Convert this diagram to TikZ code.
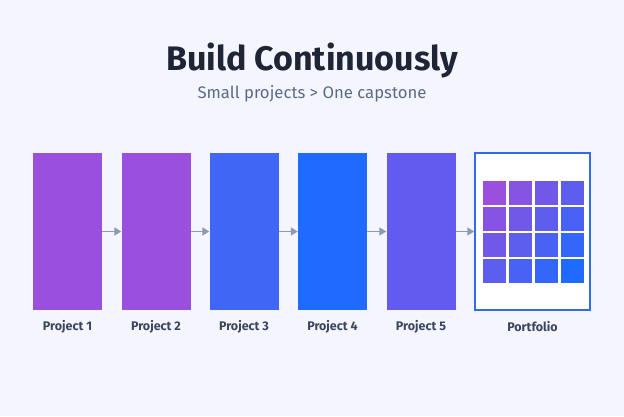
\documentclass[tikz,border=0pt]{standalone}
\usepackage{fontspec}
\setmainfont{Fira Sans}
\usetikzlibrary{arrows.meta}
\definecolor{bgcol}{HTML}{F5F6FD}
\definecolor{titlecol}{HTML}{1E2537}
\definecolor{subcol}{HTML}{5A6B88}
\definecolor{labelcol}{HTML}{3A4560}
\definecolor{arrowcol}{HTML}{8B9BB0}
\definecolor{purp}{HTML}{9B4FDE}
\definecolor{indigo}{HTML}{4066F5}
\definecolor{brightblue}{HTML}{1F6BFF}
\definecolor{violet}{HTML}{635BEF}
\definecolor{framecol}{HTML}{2F6BF0}

\begin{document}
\begin{tikzpicture}[x=1pt, y=-1pt,
			proj_style/.style={rectangle,minimum width=69pt,minimum height=157pt,inner sep=0pt,draw=none},
			cell_style/.style={rectangle,minimum width=23pt,minimum height=24pt,inner sep=0pt},
			label_style/.style={font=\bfseries\fontsize{12.5}{14}\selectfont,text=labelcol},
			edge_style/.style={draw=arrowcol,line width=1.3pt,-{Triangle[length=7pt,width=8pt]}}]
			\fill[bgcol] (0,0) rectangle (624,416);
			\useasboundingbox (0,0) rectangle (624,416);
			% heading
			\node[font=\bfseries\fontsize{34}{38}\selectfont,text=titlecol] (title) at (312,60) {Build Continuously};
			\node[font=\fontsize{16.7}{20}\selectfont,text=subcol] (subtitle) at (312,94) {Small projects > One capstone};
			% projects
			\node[proj_style,fill=purp] (p1) at (67.5,231.5) {};
			\node[proj_style,fill=purp] (p2) at (156,231.5) {};
			\node[proj_style,fill=indigo] (p3) at (244,231.5) {};
			\node[proj_style,fill=brightblue] (p4) at (332.5,231.5) {};
			\node[proj_style,fill=violet] (p5) at (421,231.5) {};
			\node[rectangle,minimum width=115pt,minimum height=157pt,inner sep=0pt,fill=white,draw=framecol,line width=1.3pt] (port) at (532.5,231.5) {};
			% portfolio grid
			\foreach \i in {0,...,3}
			  \foreach \j in {0,...,3}{
			    \pgfmathtruncatemacro{\t}{100*(\i+\j)/6}
			    \node[cell_style,fill=brightblue!\t!purp] (c\i\j) at (494.5+26*\j,193+26*\i) {};
			  }
			% labels
			\node[label_style] (l1) at (67.5,327) {Project 1};
			\node[label_style] (l2) at (156,327) {Project 2};
			\node[label_style] (l3) at (244,327) {Project 3};
			\node[label_style] (l4) at (332.5,327) {Project 4};
			\node[label_style] (l5) at (421,327) {Project 5};
			\node[label_style] (l6) at (532.5,327) {Portfolio};
			% arrows
			\draw[edge_style] (p1) -- (p2);
			\draw[edge_style] (p2) -- (p3);
			\draw[edge_style] (p3) -- (p4);
			\draw[edge_style] (p4) -- (p5);
			\draw[edge_style] (p5) -- (port);
\end{tikzpicture}
\end{document}
